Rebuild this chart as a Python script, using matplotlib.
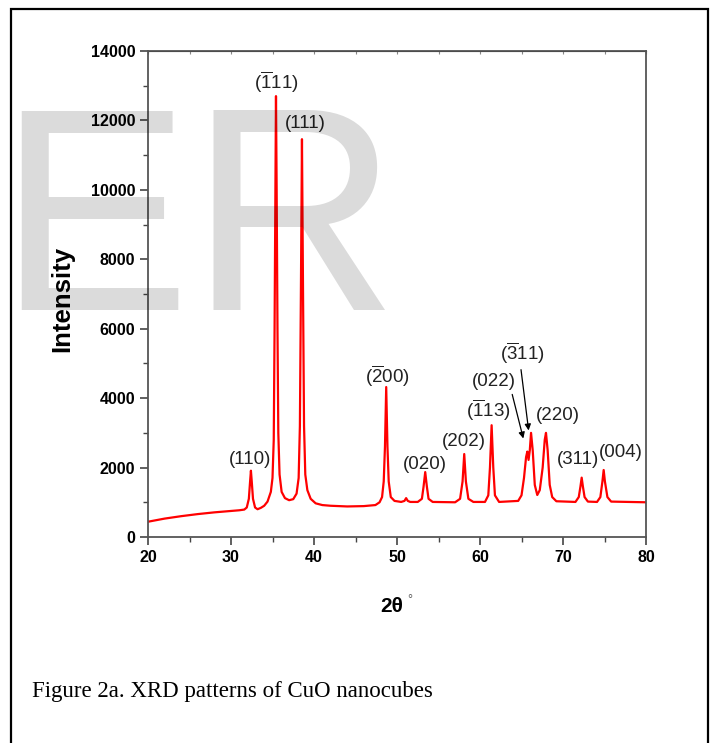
import matplotlib
matplotlib.use("Agg")
from matplotlib import pyplot as plt
from matplotlib.patches import Rectangle
from matplotlib.ticker import MultipleLocator

plt.rcParams["font.family"] = ["Liberation Sans", "DejaVu Sans"]
plt.rcParams["mathtext.fontset"] = "custom"
plt.rcParams["mathtext.rm"] = "Liberation Sans"
plt.rcParams["mathtext.it"] = "Liberation Sans:italic"
plt.rcParams["mathtext.bf"] = "Liberation Sans:bold"

# XRD trace (2theta in degrees, counts)
two_theta = [
    20, 22, 24, 26, 28, 30, 31.0, 31.6,
    31.9, 32.15, 32.3, 32.4, 32.5, 32.65, 32.9, 33.2, 33.6, 34.0, 34.4,
    34.8, 35.0, 35.15, 35.25, 35.35, 35.42, 35.5, 35.6, 35.7, 35.85,
    36.1, 36.5, 37.0, 37.5, 37.9, 38.15, 38.3, 38.42, 38.55, 38.68,
    38.8, 38.95, 39.2, 39.6, 40.2, 41, 42, 44, 46, 47.4, 47.9, 48.2,
    48.4, 48.55, 48.7, 48.85, 49.0, 49.25, 49.7, 50.5, 50.9, 51.1,
    51.3, 51.6, 52.5, 53.0, 53.2, 53.4, 53.6, 53.8, 54.3, 57.0, 57.6,
    57.9, 58.1, 58.3, 58.6, 59.2, 60.6, 61.0, 61.2, 61.4, 61.6, 61.8,
    62.3, 64.6, 65.0, 65.3, 65.55, 65.7, 65.85, 66.0, 66.15, 66.35,
    66.6, 66.9, 67.2, 67.55, 67.8, 67.95, 68.15, 68.4, 68.7, 69.2,
    71.5, 71.9, 72.1, 72.25, 72.4, 72.6, 73.0, 74.1, 74.5, 74.75,
    74.9, 75.05, 75.35, 75.8, 80,
]
intensity = [
    440, 530, 600, 660, 710, 750, 770, 790,
    850, 1100, 1600, 1910, 1600, 1100, 850, 800, 840, 900, 1020,
    1300, 1700, 2800, 6000, 10000, 12700, 10000, 6000, 3000, 1800,
    1300, 1120, 1060, 1090, 1250, 1700, 3200, 7000, 11460, 7000,
    3200, 1800, 1350, 1100, 970, 920, 900, 880, 890, 920, 1000, 1150,
    1600, 2600, 4320, 2600, 1600, 1150, 1040, 1010, 1040, 1120,
    1040, 1010, 1010, 1100, 1450, 1870, 1450, 1100, 1010, 1000, 1100,
    1600, 2390, 1600, 1100, 1010, 1010, 1200, 2000, 3220, 2000, 1200,
    1010, 1040, 1200, 1700, 2300, 2460, 2220, 2500, 3000, 2500,
    1500, 1210, 1350, 2000, 2800, 3000, 2500, 1500, 1150, 1030,
    1010, 1150, 1450, 1710, 1450, 1150, 1020, 1010, 1150, 1600,
    1930, 1600, 1150, 1020, 1000,
]

# peak labels: text, x, y (data units)
peak_labels = [
    "(110)", r"($\overline{\mathrm{1}}$11)", "(111)", r"($\overline{\mathrm{2}}$00)",
    "(020)", "(202)", r"($\overline{\mathrm{1}}$13)", "(022)",
    r"($\overline{\mathrm{3}}$11)", "(220)", "(311)", "(004)",
]
label_x = [32.3, 35.4, 38.9, 48.8, 53.4, 58.0, 61.0, 61.7, 65.1, 69.4, 71.8, 77.0]
label_y = [2220, 13100, 11920, 4640, 2100, 2760, 3660, 4490, 5300, 3510, 2220, 2420]

# arrows: (start x, start y) -> (end x, end y)
arrow_start = [(63.8, 4185), (64.9, 4900)]
arrow_end = [(65.3, 2760), (65.9, 2990)]

W, H = 712, 743
fig = plt.figure(figsize=(W / 100, H / 100), dpi=100)
ax = fig.add_axes([148 / W, 1 - 537 / H, 498 / W, 486 / H])

ax.plot(two_theta, intensity, color="#ff0000", lw=1.6)

for txt, x, y in zip(peak_labels, label_x, label_y):
    ax.text(x, y, txt, ha="center", va="center", fontsize=13.5, color="#222222")

for (sx, sy), (ex, ey) in zip(arrow_start, arrow_end):
    ax.annotate("", xy=(ex, ey), xytext=(sx, sy),
                arrowprops=dict(arrowstyle="-|>", color="black", lw=0.9,
                                mutation_scale=9))

ax.set_xlim(20, 80)
ax.set_ylim(0, 14000)
ax.xaxis.set_major_locator(MultipleLocator(10))
ax.xaxis.set_minor_locator(MultipleLocator(5))
ax.yaxis.set_major_locator(MultipleLocator(2000))
ax.yaxis.set_minor_locator(MultipleLocator(1000))
ax.tick_params(which="major", direction="out", length=6, width=1.2,
               color="#444444", labelsize=11.5, pad=3)
ax.tick_params(which="minor", direction="out", length=3.5, width=1.0,
               color="#444444")
for lab in ax.get_xticklabels() + ax.get_yticklabels():
    lab.set_fontweight("bold")
for sp in ax.spines.values():
    sp.set_color("#555555")
    sp.set_linewidth(1.3)

# small inward ticks along the top
top = ax.secondary_xaxis("top")
top.xaxis.set_major_locator(MultipleLocator(5))
top.tick_params(direction="in", length=2, width=0.8, color="#888888",
                labeltop=False)

fig.text(62 / W, 1 - 299 / H, "Intensity", rotation=90, ha="center",
         va="center", fontsize=18.5, fontweight="bold")
fig.text(392 / W, 1 - 606 / H, "2θ", ha="center", va="center",
         fontsize=15, fontweight="bold")
fig.text(410 / W, 1 - 600 / H, "°", ha="center", va="center",
         fontsize=9, color="#555555")

fig.text(32 / W, 1 - 697 / H, "Figure 2a. XRD patterns of CuO nanocubes",
         ha="left", va="baseline", fontsize=16.5, family="Liberation Serif")

# watermark
fig.text(-3 / W, 1 - 310 / H, "ER", ha="left", va="baseline", fontsize=208,
         color="black", alpha=0.14, zorder=10)

# outer frame
fig.patches.append(Rectangle((11 / W, -0.02), 697 / W, (H - 9) / H + 0.02,
                             transform=fig.transFigure, fill=False,
                             edgecolor="black", lw=1.6))

fig.savefig("out.png", dpi=100)
